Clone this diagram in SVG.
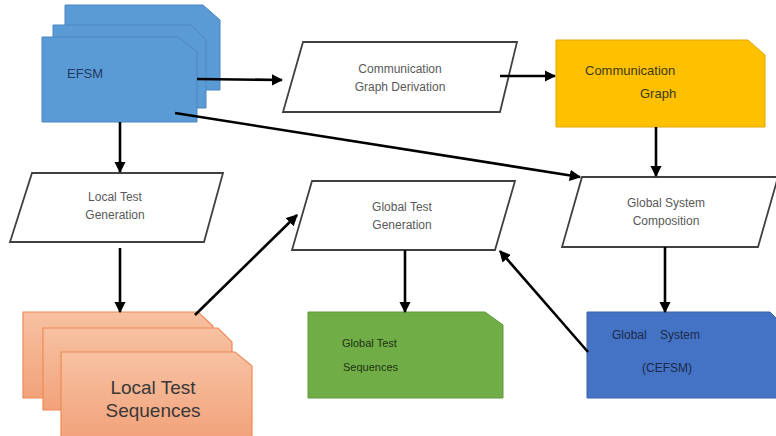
<svg xmlns="http://www.w3.org/2000/svg" width="776" height="436" viewBox="0 0 776 436">
<style>
.proc{fill:#fff;stroke:#404040;stroke-width:1.8}
.efsm{fill:#5b9bd5;stroke:#4a86bd;stroke-width:1}
.lts{fill:url(#salmon);stroke:#ee8a55;stroke-width:1.2}
.t{font-family:"Liberation Sans",Arial,sans-serif;font-size:12px}
.pt{fill:#595959;text-anchor:middle}
.s13{font-size:13px}
.s11{font-size:11px}
.big{font-size:19px;fill:#383838;text-anchor:middle}
.conn line{stroke:#000;stroke-width:2.6;marker-end:url(#ah)}
</style>
<defs>
<marker id="ah" viewBox="0 0 10 10" refX="9" refY="5" markerWidth="4.4" markerHeight="4.4" orient="auto" markerUnits="strokeWidth">
<path d="M0,0 L10,5 L0,10 z" fill="#000"/>
</marker>
<linearGradient id="salmon" x1="0" y1="0" x2="0" y2="1">
<stop offset="0" stop-color="#f7c1a2"/>
<stop offset="1" stop-color="#f2a27a"/>
</linearGradient>
</defs>

<g id="efsm">
<path class="efsm" d="M65,5 H203 L220,20 V90 H65 Z"/>
<path class="efsm" d="M53,25 H191 L206,40 V108 H53 Z"/>
<path class="efsm" d="M42,37 H178 L197,52 V122 H42 Z"/>
<text class="t s13" x="67" y="78" fill="#1f3864">EFSM</text>
</g>

<g id="comm-graph-derivation">
<path class="proc" d="M303,42 H517 L500,112 H283 Z"/>
<text class="t pt" x="400" y="73">Communication</text>
<text class="t pt" x="400" y="91">Graph Derivation</text>
</g>

<g id="comm-graph">
<path d="M556,40 H748 L765,55 V127 H556 Z" fill="#ffc000" stroke="#e0a800" stroke-width="1"/>
<text class="t s13" x="585" y="75" fill="#3a3a10">Communication</text>
<text class="t s13" x="640" y="98" fill="#3a3a10">Graph</text>
</g>

<g id="local-test-generation">
<path class="proc" d="M32,173 H223 L204,242 H10 Z"/>
<text class="t pt" x="115" y="201">Local Test</text>
<text class="t pt" x="115" y="219">Generation</text>
</g>

<g id="global-test-generation">
<path class="proc" d="M312,181 H515 L495,250 H292 Z"/>
<text class="t pt" x="402" y="211">Global Test</text>
<text class="t pt" x="402" y="229">Generation</text>
</g>

<g id="global-system-composition">
<path class="proc" d="M582,177 H778 L758,247 H562 Z"/>
<text class="t pt" x="666" y="207">Global System</text>
<text class="t pt" x="666" y="225">Composition</text>
</g>

<g id="local-test-sequences">
<path class="lts" d="M23,312 H198 L213,326 V398 H23 Z"/>
<path class="lts" d="M43,328 H218 L232,342 V410 H43 Z"/>
<path class="lts" d="M61,352 H235 L252,366 V440 H61 Z"/>
<text class="t big" x="153" y="394">Local Test</text>
<text class="t big" x="153" y="417">Sequences</text>
</g>

<g id="global-test-sequences">
<path d="M308,312 H485 L503,325 V398 H308 Z" fill="#70ad47" stroke="#5f9a3a" stroke-width="1"/>
<text class="t s11" x="342" y="347" fill="#1f3310">Global Test</text>
<text class="t s11" x="343" y="371" fill="#1f3310">Sequences</text>
</g>

<g id="global-system">
<path d="M587,312 H770 L778,320 V398 H587 Z" fill="#4472c4" stroke="#3a62a8" stroke-width="1"/>
<text class="t" x="612" y="339" fill="#1c2a4a">Global<tspan x="660">System</tspan></text>
<text class="t" x="642" y="372" fill="#1c2a4a">(CEFSM)</text>
</g>

<g id="connectors" class="conn">
<line x1="197" y1="79" x2="282" y2="80"/>
<line x1="175" y1="113" x2="580" y2="177"/>
<line x1="500" y1="76" x2="555" y2="76"/>
<line x1="656" y1="127" x2="656" y2="176"/>
<line x1="120" y1="122" x2="120" y2="172"/>
<line x1="120" y1="248" x2="120" y2="312"/>
<line x1="665" y1="247" x2="665" y2="312"/>
<line x1="405" y1="250" x2="405" y2="312"/>
<line x1="195" y1="315" x2="297" y2="215"/>
<line x1="588" y1="352" x2="500" y2="251"/>
</g>
</svg>
